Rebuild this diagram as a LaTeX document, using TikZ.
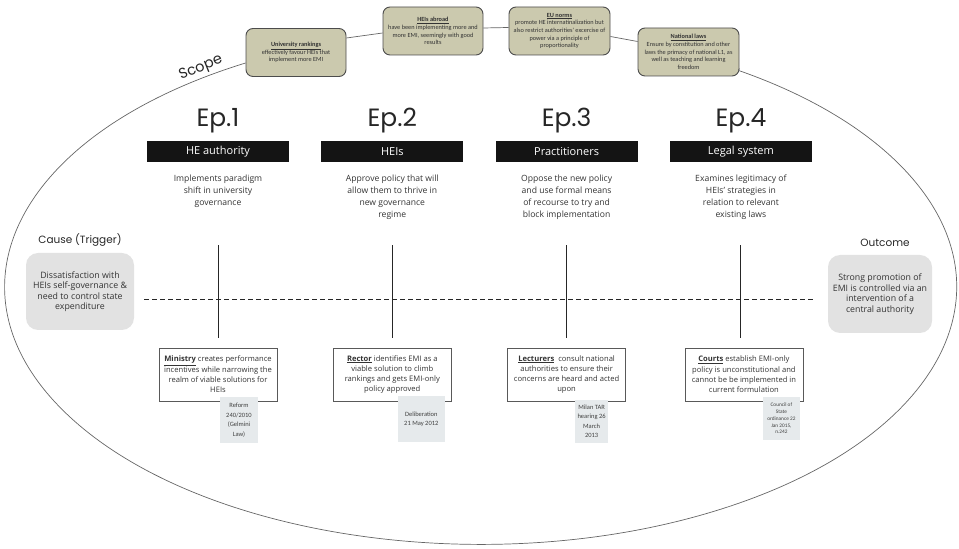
\documentclass[tikz,border=0pt]{standalone}
\usepackage{fontspec}
\setmainfont{Open Sans}
\newfontfamily\popfont{Poppins}
\newfontfamily\calfont{Carlito}
\definecolor{ctxfill}{HTML}{CBC9AE}
\definecolor{notefill}{HTML}{E6EAEC}
\definecolor{tcfill}{HTML}{E2E2E2}
\begin{document}
\begin{tikzpicture}[
            x=1pt, y=1pt,
            ep/.style={font=\popfont\fontsize{25}{28}\selectfont, text=black!85, inner sep=0pt},
            hd/.style={fill=black!92, text=white, minimum width=142pt, minimum height=21pt, inner sep=0pt, font=\fontsize{11}{12}\selectfont},
            desc/.style={align=center, inner sep=0pt, text=black!80, font=\fontsize{8.6}{12}\selectfont},
            act/.style={draw=black!65, line width=0.8pt, fill=white, align=center, minimum width=118pt, minimum height=53pt, inner sep=2pt, text=black!80, font=\fontsize{7.6}{10.3}\selectfont},
            note/.style={fill=notefill, align=center, inner sep=1pt, text=black!75, font=\calfont\fontsize{6.5}{9.5}\selectfont},
            ctx/.style={draw=black!70, line width=0.9pt, fill=ctxfill, rounded corners=7pt, align=center, minimum width=100pt, minimum height=48pt, inner sep=2pt, text=black!80, font=\calfont\fontsize{6.3}{7.7}\selectfont},
            tc/.style={fill=tcfill, rounded corners=12pt, align=center, minimum width=108pt, minimum height=77pt, inner sep=2pt, text=black!80, font=\fontsize{8.8}{10.5}\selectfont},
            lbl/.style={font=\popfont\fontsize{10.5}{12}\selectfont, text=black!85, inner sep=0pt},
            tl/.style={line width=1pt, black!85},
            scp/.style={line width=0.7pt, black!60},
        ]

        \tikzset{
            node distance=174.3pt,
        }

        \useasboundingbox (0,0) rectangle (959,549);

        \node[ctx] (rank) at (296,496.5) {\underline{\textbf{University rankings}}\\effectively favour HEIs that\\implement more EMI};
        \node[ctx, right of=rank, node distance=137pt, yshift=21.5pt] (abroad) {\underline{\textbf{HEIs abroad}}\\have been implementing more and\\more EMI, seemingly with good\\results};
        \node[ctx, minimum width=101pt, right of=abroad, node distance=126.5pt] (eun) {\underline{\textbf{EU norms}}\\promote HE internatinalization but\\also restrict authorities' excercise of\\power via a principle of\\proportionality};
        \node[ctx, minimum width=101pt, right of=eun, node distance=129pt, yshift=-21pt] (natl) {\underline{\textbf{National laws}}\\Ensure by constitution and other\\laws the primacy of national L1, as\\well as teaching and learning\\freedom};

        \coordinate (s0) at ([yshift=-10.5pt]rank.west);
        \coordinate (s1) at ([yshift=-16.5pt]natl.east);
        \draw[scp] (s0) arc[start angle=119.6, end angle=417.2, x radius=476pt, y radius=257.5pt] -- (s1);
        \draw[scp]
            ([yshift=14.5pt]rank.east) -- ([yshift=-2pt]abroad.west)
            ([yshift=3pt]abroad.east) -- ([yshift=3.5pt]eun.west)
            ([yshift=-5.5pt]eun.east) -- ([yshift=10.5pt]natl.west)
        ;
        \node[lbl, font=\popfont\fontsize{14.5}{16}\selectfont, rotate=22] (scope) at (201,481) {Scope};

        \node[hd] (hd1) at (218,397.5) {HE authority};
        \node[hd, right of=hd1] (hd2) {HEIs};
        \node[hd, right of=hd2] (hd3) {Practitioners};
        \node[hd, right of=hd3] (hd4) {Legal system};

        \node[ep, above of=hd1, node distance=24.5pt, anchor=base] (ep1) {Ep.1};
        \node[ep, above of=hd2, node distance=24.5pt, anchor=base] (ep2) {Ep.2};
        \node[ep, above of=hd3, node distance=24.5pt, anchor=base] (ep3) {Ep.3};
        \node[ep, above of=hd4, node distance=24.5pt, anchor=base] (ep4) {Ep.4};

        \node[desc, below of=hd1, node distance=23.5pt, anchor=north] (d1) {Implements paradigm\\shift in university\\governance};
        \node[desc, below of=hd2, node distance=23.5pt, anchor=north] (d2) {Approve policy that will\\allow them to thrive in\\new governance\\regime};
        \node[desc, below of=hd3, node distance=23.5pt, anchor=north] (d3) {Oppose the new policy\\and use formal means\\of recourse to try and\\block implementation};
        \node[desc, below of=hd4, node distance=23.5pt, anchor=north] (d4) {Examines legitimacy of\\HEIs' strategies in\\relation to relevant\\existing laws};

        \node[tc] (cause) at (80,257.5) {Dissatisfaction with\\HEIs self-governance \&\\need to control state\\expenditure};
        \node[tc, minimum width=104pt, minimum height=78pt] (outc) at (880,255) {Strong promotion of\\EMI is controlled via an\\intervention of a\\central authority};
        \node[lbl, above of=cause, node distance=51.5pt] (causelbl) {Cause (Trigger)};
        \node[lbl, above of=outc, node distance=51pt, xshift=5pt] (outlbl) {Outcome};

        \draw[tl, line width=0.9pt, dash pattern=on 5pt off 3pt] ([xshift=10pt,yshift=-8pt]cause.east) -- ([xshift=-13pt,yshift=-5.5pt]outc.west);

        \node[act, below of=hd1, node distance=223pt] (a1) {\underline{\textbf{Ministry}} creates performance\\incentives while narrowing the\\realm of viable solutions for\\HEIs};
        \node[act, below of=hd2, node distance=223pt] (a2) {\underline{\textbf{Rector}} identifies EMI as a\\viable solution to climb\\rankings and gets EMI-only\\policy approved};
        \node[act, below of=hd3, node distance=223pt] (a3) {\underline{\textbf{Lecturers}}\ \ consult national\\authorities to ensure their\\concerns are heard and acted\\upon};
        \node[act, below of=hd4, node distance=223pt, xshift=3pt] (a4) {\underline{\textbf{Courts}} establish EMI-only\\policy is unconstitutional and\\cannot be be implemented in\\current formulation};

        \draw[tl]
            ([yshift=10pt]a1.north) -- ([yshift=103pt]a1.north)
            ([yshift=10pt]a2.north) -- ([yshift=103pt]a2.north)
            ([yshift=10pt]a3.north) -- ([yshift=103pt]a3.north)
            ([yshift=10pt,xshift=-3pt]a4.north) -- ([yshift=103pt,xshift=-3pt]a4.north)
        ;

        \node[note, below of=a1, node distance=45.5pt, xshift=21pt, minimum width=38pt, minimum height=46pt] (n1) {Reform\\240/2010\\(Gelmini\\Law)};
        \node[note, below of=a2, node distance=45pt, xshift=29pt, minimum width=47pt, minimum height=46pt] (n2) {Deliberation\\21 May 2012};
        \node[note, below of=a3, node distance=47pt, xshift=25pt, minimum width=33pt, minimum height=43pt] (n3) {Milan TAR\\hearing 26\\March\\2013};
        \node[note, below of=a4, node distance=44pt, xshift=37.5pt, minimum width=37pt, minimum height=43pt, font=\calfont\fontsize{5.3}{6.8}\selectfont] (n4) {Council of\\State\\ordinance 22\\Jan 2015,\\n.242};

\end{tikzpicture}
\end{document}
